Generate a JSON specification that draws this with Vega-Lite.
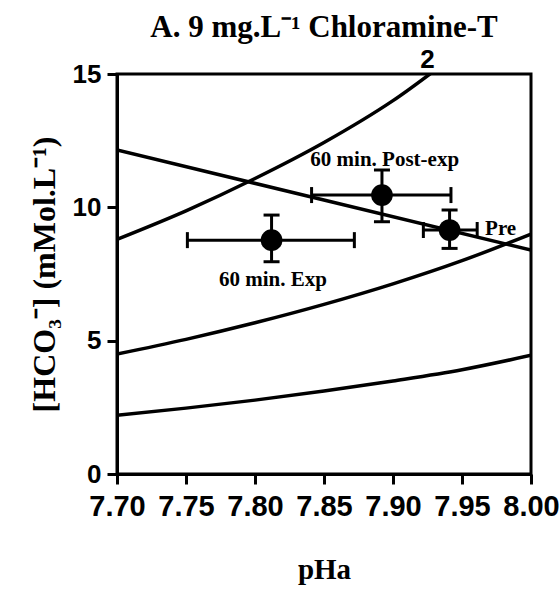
{
  "$schema": "https://vega.github.io/schema/vega-lite/v6.json",
  "width": 414,
  "height": 400,
  "autosize": {"type": "none"},
  "padding": {"left": 117, "top": 74, "right": 29, "bottom": 116},
  "background": "white",
  "title": {
    "text": "A. 9 mg.L⁻¹ Chloramine-T",
    "font": "Liberation Serif",
    "fontWeight": "bold",
    "fontSize": 31,
    "anchor": "middle",
    "offset": 3,
    "color": "black"
  },
  "config": {
    "view": {"stroke": "black", "strokeWidth": 3},
    "axis": {
      "domainColor": "black",
      "domainWidth": 3,
      "tickColor": "black",
      "tickWidth": 3,
      "tickSize": 10,
      "grid": false,
      "labelFont": "Liberation Sans",
      "labelFontWeight": "bold",
      "labelColor": "black",
      "labelOverlap": false,
      "labelFlush": false,
      "titleFont": "Liberation Serif",
      "titleFontWeight": "bold",
      "titleColor": "black"
    }
  },
  "datasets": {
    "curves": [
      {"curve": "p2", "pH": 7.70, "hco3": 8.8},
      {"curve": "p2", "pH": 7.75, "hco3": 9.87},
      {"curve": "p2", "pH": 7.80, "hco3": 11.08},
      {"curve": "p2", "pH": 7.85, "hco3": 12.43},
      {"curve": "p2", "pH": 7.90, "hco3": 14.0},
      {"curve": "p2", "pH": 7.95, "hco3": 15.9},
      {"curve": "p2", "pH": 8.00, "hco3": 17.8},
      {"curve": "p1", "pH": 7.70, "hco3": 4.5},
      {"curve": "p1", "pH": 7.75, "hco3": 5.05},
      {"curve": "p1", "pH": 7.80, "hco3": 5.67},
      {"curve": "p1", "pH": 7.85, "hco3": 6.36},
      {"curve": "p1", "pH": 7.90, "hco3": 7.13},
      {"curve": "p1", "pH": 7.95, "hco3": 8.0},
      {"curve": "p1", "pH": 8.00, "hco3": 9.0},
      {"curve": "p05", "pH": 7.70, "hco3": 2.2},
      {"curve": "p05", "pH": 7.75, "hco3": 2.47},
      {"curve": "p05", "pH": 7.80, "hco3": 2.77},
      {"curve": "p05", "pH": 7.85, "hco3": 3.11},
      {"curve": "p05", "pH": 7.90, "hco3": 3.49},
      {"curve": "p05", "pH": 7.95, "hco3": 3.91},
      {"curve": "p05", "pH": 8.00, "hco3": 4.45},
      {"curve": "buffer", "pH": 7.70, "hco3": 12.15},
      {"curve": "buffer", "pH": 8.00, "hco3": 8.4}
    ],
    "points": [
      {"label": "60 min. Exp", "pH": 7.812, "pHlo": 7.751, "pHhi": 7.872, "hco3": 8.77, "hlo": 7.96, "hhi": 9.71},
      {"label": "60 min. Post-exp", "pH": 7.892, "pHlo": 7.841, "pHhi": 7.942, "hco3": 10.46, "hlo": 9.46, "hhi": 11.4},
      {"label": "Pre", "pH": 7.941, "pHlo": 7.922, "pHhi": 7.961, "hco3": 9.15, "hlo": 8.46, "hhi": 9.9}
    ],
    "labels": [
      {"text": "60 min. Post-exp", "pH": 7.894, "hco3": 11.77},
      {"text": "60 min. Exp", "pH": 7.813, "hco3": 7.27},
      {"text": "Pre", "pH": 7.978, "hco3": 9.2}
    ]
  },
  "layer": [
    {
      "data": {"name": "curves"},
      "mark": {"type": "line", "color": "black", "strokeWidth": 3.5, "interpolate": "monotone", "clip": true},
      "encoding": {
        "x": {
          "field": "pH", "type": "quantitative", "title": "pHa",
          "scale": {"domain": [7.70, 8.00], "nice": false, "zero": false},
          "axis": {
            "values": [7.70, 7.75, 7.80, 7.85, 7.90, 7.95, 8.00],
            "format": ".2f",
            "labelFontSize": 29,
            "labelPadding": 8,
            "titleFontSize": 29,
            "titlePadding": 34
          }
        },
        "y": {
          "field": "hco3", "type": "quantitative", "title": "[HCO₃⁻] (mMol.L⁻¹)",
          "scale": {"domain": [0, 15], "nice": false},
          "axis": {
            "values": [0, 5, 10, 15],
            "labelFontSize": 26,
            "labelPadding": 6,
            "titleFontSize": 32,
            "titlePadding": 11
          }
        },
        "detail": {"field": "curve"}
      }
    },
    {
      "data": {"name": "points"},
      "mark": {"type": "errorbar", "ticks": {"size": 16, "thickness": 3, "color": "black", "opacity": 1}, "rule": {"strokeWidth": 3, "color": "black", "opacity": 1}},
      "encoding": {
        "x": {"field": "pHlo", "type": "quantitative", "title": "pHa"},
        "x2": {"field": "pHhi"},
        "y": {"field": "hco3", "type": "quantitative", "title": "[HCO₃⁻] (mMol.L⁻¹)"}
      }
    },
    {
      "data": {"name": "points"},
      "mark": {"type": "errorbar", "ticks": {"size": 16, "thickness": 3, "color": "black", "opacity": 1}, "rule": {"strokeWidth": 3, "color": "black", "opacity": 1}},
      "encoding": {
        "y": {"field": "hlo", "type": "quantitative", "title": "[HCO₃⁻] (mMol.L⁻¹)"},
        "y2": {"field": "hhi"},
        "x": {"field": "pH", "type": "quantitative", "title": "pHa"}
      }
    },
    {
      "data": {"name": "points"},
      "mark": {"type": "circle", "color": "black", "opacity": 1, "size": 470},
      "encoding": {
        "x": {"field": "pH", "type": "quantitative", "title": "pHa"},
        "y": {"field": "hco3", "type": "quantitative", "title": "[HCO₃⁻] (mMol.L⁻¹)"}
      }
    },
    {
      "data": {"name": "labels"},
      "mark": {"type": "text", "font": "Liberation Serif", "fontWeight": "bold", "fontSize": 21, "color": "black", "baseline": "middle"},
      "encoding": {
        "x": {"field": "pH", "type": "quantitative", "title": "pHa"},
        "y": {"field": "hco3", "type": "quantitative", "title": "[HCO₃⁻] (mMol.L⁻¹)"},
        "text": {"field": "text"}
      }
    },
    {
      "data": {"values": [{"text": "2", "pH": 7.925, "hco3": 15}]},
      "mark": {"type": "text", "font": "Liberation Sans", "fontWeight": "bold", "fontSize": 26, "color": "black", "baseline": "bottom", "dy": -1, "clip": false},
      "encoding": {
        "x": {"field": "pH", "type": "quantitative", "title": "pHa"},
        "y": {"field": "hco3", "type": "quantitative", "title": "[HCO₃⁻] (mMol.L⁻¹)"},
        "text": {"field": "text"}
      }
    }
  ]
}
